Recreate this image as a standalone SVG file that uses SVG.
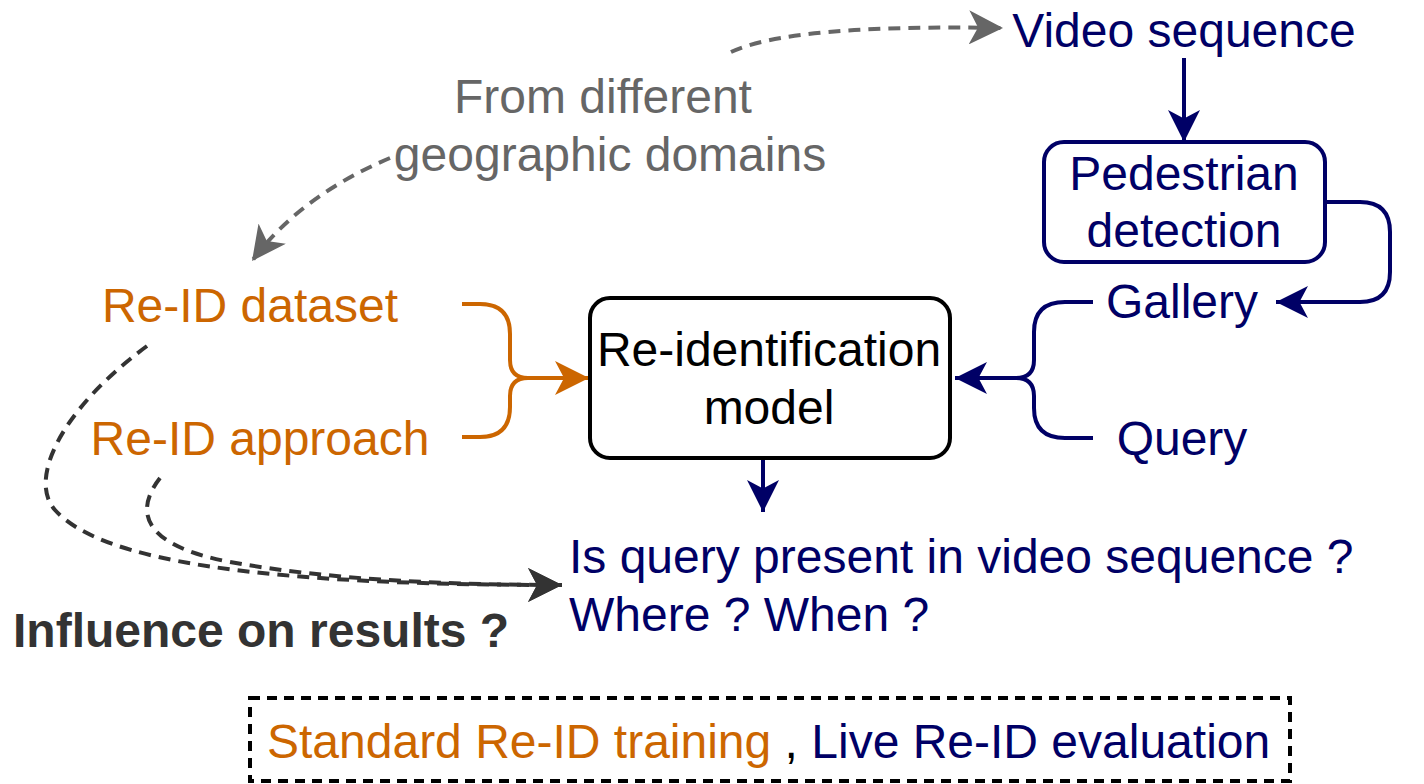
<svg xmlns="http://www.w3.org/2000/svg" width="1424" height="784" viewBox="0 0 1424 784">
<defs>
<style>
text{font-family:"Liberation Sans",Arial,sans-serif;font-size:48px}
.navy{fill:#000066}
.orange{fill:#CC6600}
.gray{fill:#666666}
.dark{fill:#333333;font-weight:bold}
.box{fill:#ffffff;stroke-width:4}
.ln{fill:none;stroke-width:4}
.dash{fill:none;stroke-width:4;stroke-dasharray:12 8}
</style>
<marker id="aNavy" viewBox="0 0 30 30" refX="30" refY="15" markerWidth="32" markerHeight="32" markerUnits="userSpaceOnUse" orient="auto"><path d="M0 0 L30 15 L0 30 L8 15 Z" fill="#000066"/></marker>
<marker id="aOrange" viewBox="0 0 30 30" refX="30" refY="15" markerWidth="34" markerHeight="34" markerUnits="userSpaceOnUse" orient="auto"><path d="M0 0 L30 15 L0 30 L8 15 Z" fill="#CC6600"/></marker>
<marker id="aGray" viewBox="0 0 30 30" refX="30" refY="15" markerWidth="34" markerHeight="34" markerUnits="userSpaceOnUse" orient="auto"><path d="M0 0 L30 15 L0 30 L8 15 Z" fill="#666666"/></marker>
<marker id="aDark" viewBox="0 0 30 30" refX="30" refY="15" markerWidth="34" markerHeight="34" markerUnits="userSpaceOnUse" orient="auto"><path d="M0 0 L30 15 L0 30 L8 15 Z" fill="#333333"/></marker>
</defs>
<rect width="1424" height="784" fill="#ffffff"/>
<g id="connectors">
<path class="ln" stroke="#000066" d="M1184 58 V142" marker-end="url(#aNavy)"/>
<path class="ln" stroke="#000066" d="M1325 202 H1360 Q1390 202 1390 232 V272 Q1390 302 1360 302 H1276" marker-end="url(#aNavy)"/>
<path class="ln" stroke="#000066" d="M1093 302 H1065 Q1034 302 1034 332 V360 Q1034 378 1016 378 H955" marker-end="url(#aNavy)"/>
<path class="ln" stroke="#000066" d="M1093 438 H1065 Q1034 438 1034 408 V396 Q1034 378 1016 378"/>
<path class="ln" stroke="#CC6600" d="M462 304 H480 Q510 304 510 334 V360 Q510 378 528 378 H589" marker-end="url(#aOrange)"/>
<path class="ln" stroke="#CC6600" d="M462 437 H480 Q510 437 510 407 V396 Q510 378 528 378"/>
<path class="ln" stroke="#000066" d="M763 458 V512" marker-end="url(#aNavy)"/>
<path class="dash" stroke="#666666" d="M731 52 Q790 24 1003 28" marker-end="url(#aGray)"/>
<path class="dash" stroke="#666666" d="M390 158 Q300 196 252 261" marker-end="url(#aGray)"/>
<path class="dash" stroke="#333333" d="M147 346 C60 410 28 480 55 510 C100 560 250 585 562 585" marker-end="url(#aDark)"/>
<path class="dash" stroke="#333333" d="M160 478 C135 510 140 545 230 562 C330 580 450 585 562 585" marker-end="url(#aDark)"/>
</g>
<g id="video-sequence"><text class="navy" x="1184" y="47" text-anchor="middle">Video sequence</text></g>
<g id="pedestrian-detection">
<rect class="box" stroke="#000066" x="1044" y="142" width="281" height="120" rx="20"/>
<text class="navy" x="1184" y="190" text-anchor="middle">Pedestrian</text>
<text class="navy" x="1184" y="247" text-anchor="middle">detection</text>
</g>
<g id="gallery"><text class="navy" x="1182" y="318" text-anchor="middle">Gallery</text></g>
<g id="query"><text class="navy" x="1182" y="455" text-anchor="middle">Query</text></g>
<g id="reid-model">
<rect class="box" stroke="#000000" x="590" y="298" width="360" height="160" rx="20"/>
<text x="769" y="366" text-anchor="middle" fill="#000000">Re-identification</text>
<text x="769" y="424" text-anchor="middle" fill="#000000">model</text>
</g>
<g id="reid-dataset"><text class="orange" x="250" y="322" text-anchor="middle">Re-ID dataset</text></g>
<g id="reid-approach"><text class="orange" x="260" y="455" text-anchor="middle">Re-ID approach</text></g>
<g id="geo-domains">
<text class="gray" x="603" y="113" text-anchor="middle">From different</text>
<text class="gray" x="610" y="171" text-anchor="middle">geographic domains</text>
</g>
<g id="result">
<text class="navy" x="569" y="573">Is query present in video sequence ?</text>
<text class="navy" x="569" y="631">Where ? When ?</text>
</g>
<g id="influence"><text class="dark" x="13" y="647">Influence on results ?</text></g>
<g id="legend">
<rect x="250" y="698" width="1040" height="83" fill="none" stroke="#000000" stroke-width="4" stroke-dasharray="10 7"/>
<text x="267" y="758"><tspan class="orange">Standard Re-ID training</tspan><tspan fill="#000000"> , </tspan><tspan class="navy">Live Re-ID evaluation</tspan></text>
</g>
</svg>
